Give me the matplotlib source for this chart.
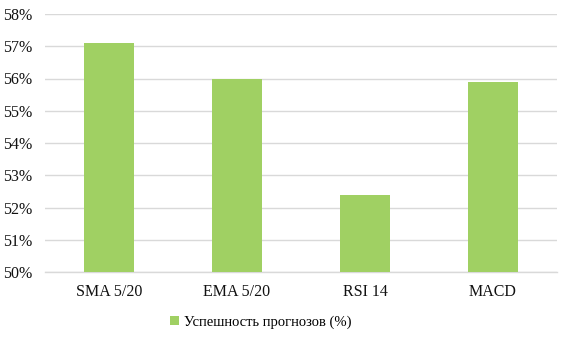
import matplotlib
matplotlib.use("Agg")
import matplotlib.pyplot as plt
from matplotlib.ticker import FuncFormatter

categories = ["SMA 5/20", "EMA 5/20", "RSI 14", "MACD"]
success = [57.1, 56.0, 52.4, 55.9]
series_name = "Успешность прогнозов (%)"

plt.rcParams['font.family'] = ['Liberation Serif', 'DejaVu Serif']

fig = plt.figure(figsize=(5.67, 3.41), dpi=100)
ax = fig.add_axes([45 / 567, 1 - 272 / 341, 512 / 567, 258 / 341])

x = range(len(categories))
ax.bar(x, success, width=0.39, color="#A0D063", label=series_name, zorder=3)

ax.set_ylim(50, 58)
ax.set_xlim(-0.5, len(categories) - 0.5)
ax.set_yticks(range(50, 59))
ax.yaxis.set_major_formatter(FuncFormatter(lambda v, p: f"{v:.0f}%"))
ax.set_xticks(list(x))
ax.set_xticklabels(categories)
ax.tick_params(axis="both", length=0, labelsize=11.5, colors="#111111")
ax.tick_params(axis="x", pad=9)
ax.tick_params(axis="y", pad=9)

ax.grid(axis="y", color="#D9D9D9", linewidth=1, zorder=0)
for s in ["top", "right", "left"]:
    ax.spines[s].set_visible(False)
ax.spines["bottom"].set_color("#D9D9D9")
ax.spines["bottom"].set_linewidth(1)

fig.legend(loc="center", bbox_to_anchor=(0.46, 1 - 322 / 341), frameon=False,
           fontsize=10.5, handlelength=0.6, handleheight=0.6, handletextpad=0.4)

fig.savefig("out.png", dpi=100)
